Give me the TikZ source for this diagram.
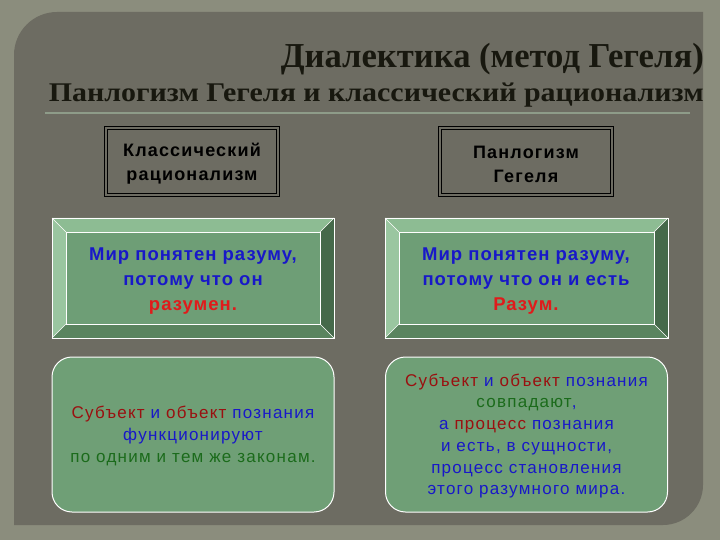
\documentclass[tikz,border=0pt]{standalone}
\usepackage{fontspec}
\usepackage{graphicx}
\setmainfont{Liberation Sans}
\newfontfamily\ttlfont{Liberation Serif}
\newfontfamily\hdrfont[LetterSpace=6.5]{Liberation Sans}
\newfontfamily\bvfont[LetterSpace=5.5]{Liberation Sans}
\newfontfamily\rdfont[LetterSpace=7.3]{Liberation Sans}
\definecolor{outerbg}{HTML}{8B8D7D}
\definecolor{panelc}{HTML}{6D6C62}
\definecolor{ttlc}{HTML}{18180F}
\definecolor{rulec}{HTML}{8E9C89}
\definecolor{facec}{HTML}{6E9E76}
\definecolor{bvtop}{HTML}{8DBC93}
\definecolor{bvleft}{HTML}{9AC6A0}
\definecolor{bvright}{HTML}{45694A}
\definecolor{bvbot}{HTML}{5A845F}
\definecolor{roundc}{HTML}{6F9F76}
\definecolor{tblue}{HTML}{1818C8}
\definecolor{tred}{HTML}{E01B1B}
\definecolor{tdred}{HTML}{9A1010}
\definecolor{tgreen}{HTML}{1B6B1B}
\newcommand\bevelbox[5]{%
  \fill[bvtop] (#1,#2) -- (#3,#2) -- ({#3-#5},{#2+#5}) -- ({#1+#5},{#2+#5}) -- cycle;
  \fill[bvleft] (#1,#2) -- ({#1+#5},{#2+#5}) -- ({#1+#5},{#4-#5}) -- (#1,#4) -- cycle;
  \fill[bvright] (#3,#2) -- (#3,#4) -- ({#3-#5},{#4-#5}) -- ({#3-#5},{#2+#5}) -- cycle;
  \fill[bvbot] (#1,#4) -- (#3,#4) -- ({#3-#5},{#4-#5}) -- ({#1+#5},{#4-#5}) -- cycle;
  \fill[facec] ({#1+#5},{#2+#5}) rectangle ({#3-#5},{#4-#5});
  \draw[white, line width=0.9pt] (#1,#2) rectangle (#3,#4);
  \draw[white, line width=0.7pt] ({#1+#5},{#2+#5}) rectangle ({#3-#5},{#4-#5});
  \draw[white, line width=0.5pt] (#1,#2) -- ({#1+#5},{#2+#5}) (#3,#2) -- ({#3-#5},{#2+#5})
     (#1,#4) -- ({#1+#5},{#4-#5}) (#3,#4) -- ({#3-#5},{#4-#5});
}
\tikzset{
  dbl/.style={draw=black, double=panelc, line width=1.1pt, double distance=2pt,
    fill=panelc, minimum width=172pt, minimum height=67pt},
  hdrtext/.style={align=center, font=\hdrfont\fontsize{18}{24}\selectfont\bfseries, text=black},
  bvtext/.style={align=center, font=\bvfont\fontsize{18.5}{25}\selectfont\bfseries, text=tblue},
  rbox/.style={draw=white, line width=1pt, fill=roundc, rounded corners=20pt,
    minimum width=282pt, minimum height=155pt},
  rtext/.style={align=center, font=\rdfont\fontsize{17}{21.7}\selectfont, text=tblue},
}
\begin{document}
\begin{tikzpicture}[x=1pt,y=-1pt]
\useasboundingbox (0,0) rectangle (720,540);
\fill[outerbg] (0,0) rectangle (720,540);
% panel
\fill[panelc] (14,55) .. controls (14,31.3) and (33.3,12) .. (57,12) -- (703,12) -- (703,485)
  .. controls (703,507) and (685,525) .. (663,525) -- (14,525) -- cycle;
% titles
\node[anchor=base east, inner sep=0, text=ttlc] (t1) at (704,68)
  {\resizebox{423pt}{\height}{\ttlfont\fontsize{35}{35}\selectfont\bfseries Диалектика (метод Гегеля)}};
\node[anchor=base east, inner sep=0, text=ttlc] (t2) at (704,102)
  {\resizebox{655pt}{\height}{\ttlfont\fontsize{27}{27}\selectfont\bfseries Панлогизм Гегеля и классический рационализм}};
\coordinate (r1) at (45,113);
\coordinate (r2) at (690,113);
\draw[rulec, line width=1.5pt] (r1) -- (r2);
% header boxes
\node[dbl] (k1) at (192,161.5) {};
\node[dbl] (k2) at (526,161.5) {};
\node[hdrtext] (k1t) at (192,164) {Классический\\рационализм};
\node[hdrtext] (k2t) at (526,164) {Панлогизм\\Гегеля};
% bevel boxes
\bevelbox{52}{218}{334}{338}{14}
\bevelbox{385}{218}{668}{338}{14}
\node[bvtext] (b1) at (193,281) {Мир понятен разуму,\\потому что он\\\textcolor{tred}{разумен.}};
\node[bvtext] (b2) at (526,281) {Мир понятен разуму,\\потому что он и есть\\\textcolor{tred}{Разум.}};
% rounded boxes
\node[rbox] (c1) at (193,434.5) {};
\node[rbox] (c2) at (526.5,434.5) {};
\node[rtext] (d1) at (193,436) {\textcolor{tdred}{Субъект} и \textcolor{tdred}{объект} познания\\функционируют\\\textcolor{tgreen}{по одним и тем же законам.}};
\node[rtext] (d2) at (526.5,436) {\textcolor{tdred}{Субъект} и \textcolor{tdred}{объект} познания\\\textcolor{tgreen}{совпадают},\\а \textcolor{tdred}{процесс} познания\\и есть, в сущности,\\процесс становления\\этого разумного мира.};
\end{tikzpicture}
\end{document}
